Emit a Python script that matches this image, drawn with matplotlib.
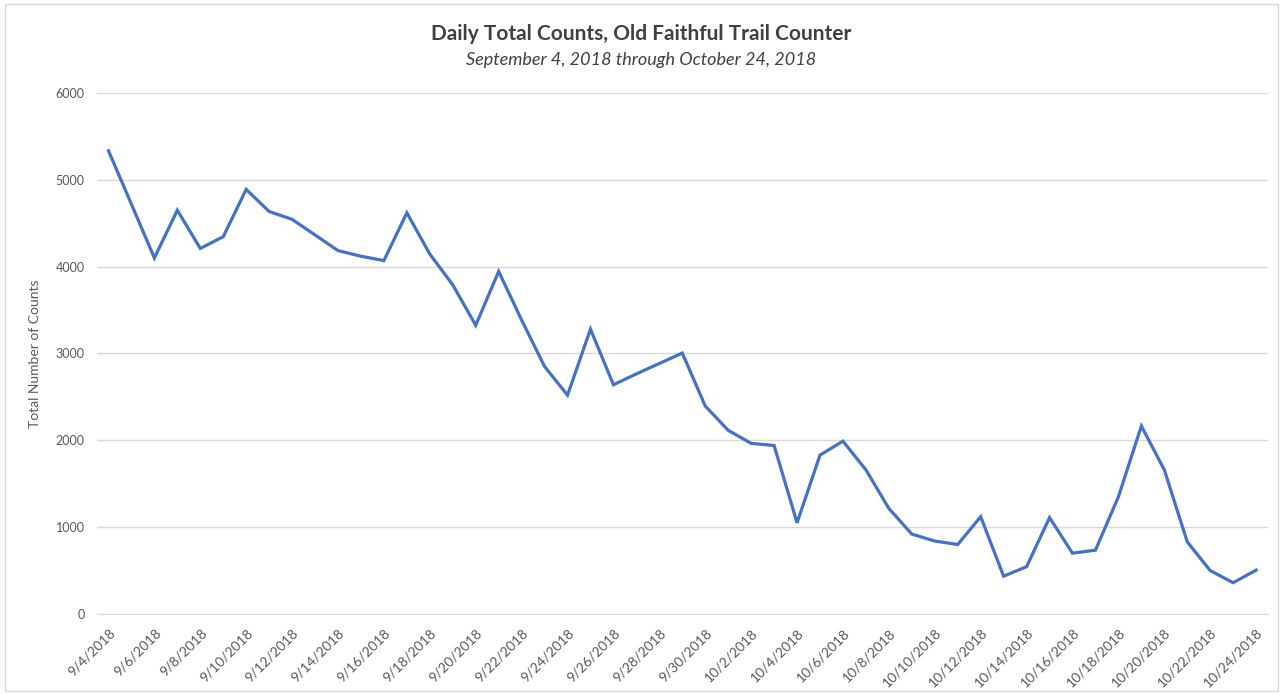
import numpy as np
import matplotlib
matplotlib.use("Agg")
import matplotlib.pyplot as plt
from matplotlib.patches import Rectangle

# --------------------------
# data
# --------------------------
dates = [f"9/{d}/2018" for d in range(4, 31)] + [f"10/{d}/2018" for d in range(1, 25)]
counts = [5335, 4720, 4100, 4650, 4210, 4345, 4890, 4635, 4545, 4365,
          4185, 4120, 4070, 4620, 4145, 3790, 3325, 3945, 3385, 2850,
          2520, 3280, 2640, 2765, 2885, 3005, 2395, 2115, 1965, 1940,
          1050, 1830, 1990, 1660, 1215, 920, 840, 800, 1120, 435,
          545, 1110, 700, 735, 1350, 2165, 1660, 830, 500, 360, 505]
yticks = [0, 1000, 2000, 3000, 4000, 5000, 6000]

title = "Daily Total Counts, Old Faithful Trail Counter"
subtitle = "September 4, 2018 through October 24, 2018"
ylabel = "Total Number of Counts"

plt.rcParams['font.family'] = ['Lato', 'DejaVu Sans']

fig = plt.figure(figsize=(12.83, 6.94), dpi=100)
ax = fig.add_axes([0.0756, 0.1153, 0.9124, 0.7507])

x = np.arange(len(dates))
ax.plot(x, counts, color="#4472C4", linewidth=2.3, solid_joinstyle="miter")

ax.set_xlim(-0.5, len(dates) - 0.5)
ax.set_ylim(0, 6000)
ax.set_yticks(yticks)
ax.set_yticklabels([str(t) for t in yticks])
ax.grid(axis="y", color="#d9d9d9", linewidth=1)
ax.set_axisbelow(True)

# every other date gets a label, slanted like the original
ax.set_xticks(x[::2])
ax.set_xticklabels(dates[::2], rotation=45, ha="right", va="top",
                   rotation_mode="anchor", fontsize=10, color="#595959")
ax.tick_params(axis="x", length=0, pad=9)
ax.tick_params(axis="y", length=0, labelsize=9, labelcolor="#595959", pad=9)

for s in ["top", "right", "left"]:
    ax.spines[s].set_visible(False)
ax.spines["bottom"].set_color("#d9d9d9")

ax.set_ylabel(ylabel, fontsize=10, color="#595959", labelpad=10)

fig.text(0.5, 0.951, title, ha="center", va="center", fontsize=15,
         fontweight="bold", color="#404040")
fig.text(0.5, 0.913, subtitle, ha="center", va="center", fontsize=13,
         style="italic", color="#404040")

fig.patches.append(Rectangle((0.004, 0.004), 0.992, 0.99, transform=fig.transFigure,
                             fill=False, edgecolor="#d9d9d9", linewidth=1))

fig.savefig("out.png", dpi=100, facecolor="white")
